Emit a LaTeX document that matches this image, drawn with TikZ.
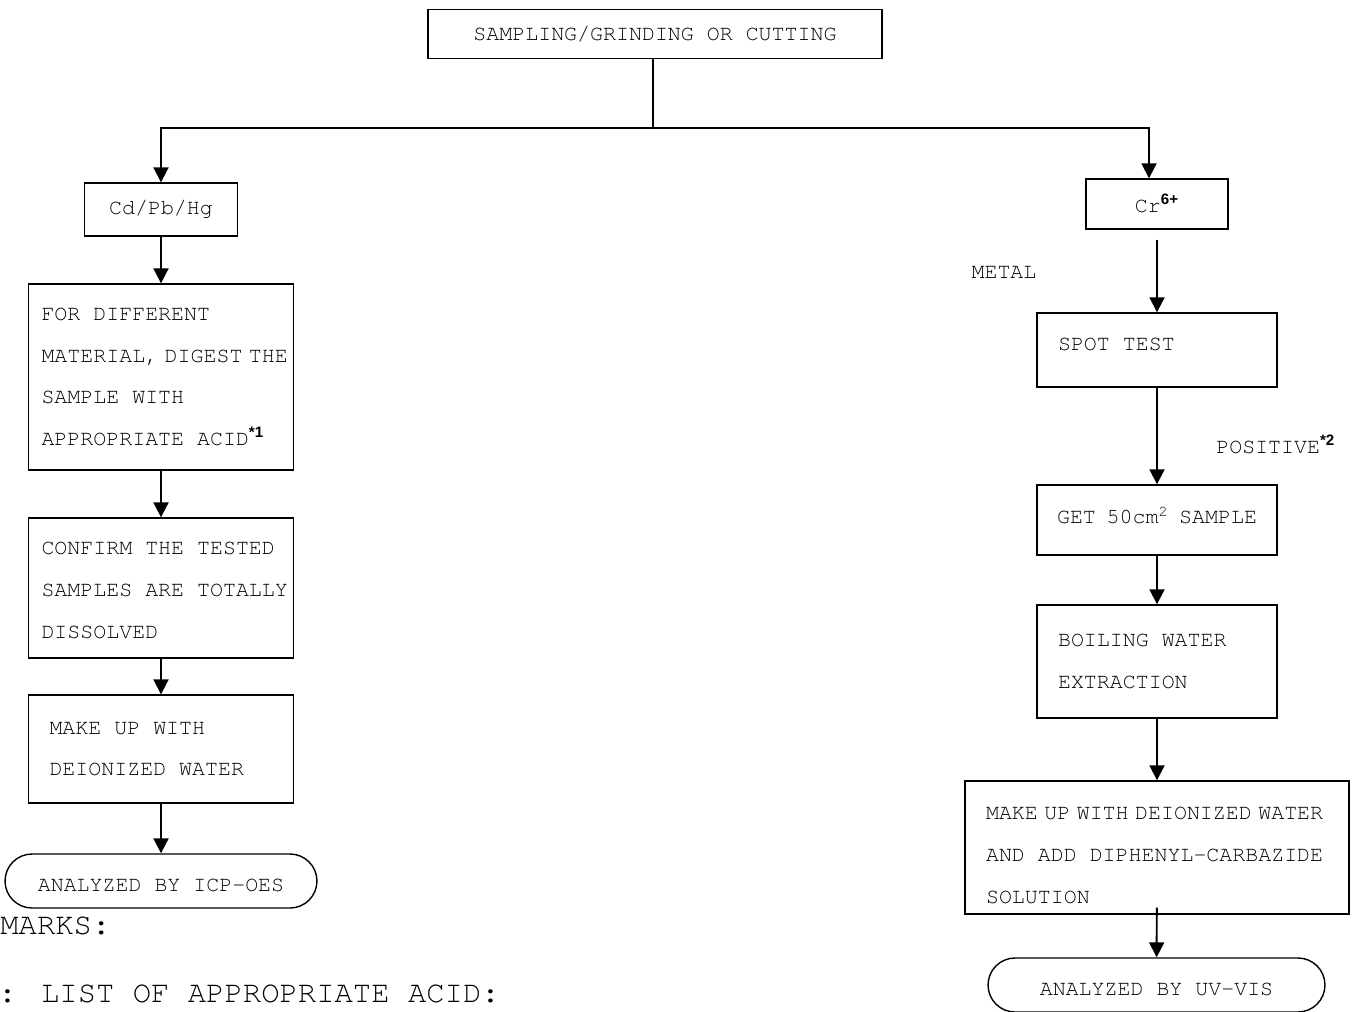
\documentclass[tikz,border=0pt]{standalone}
\usepackage{fontspec}
\setmainfont{TeX Gyre Cursor}
\newfontfamily\markfont{Liberation Sans}
\usepackage{tikz}
\usetikzlibrary{arrows.meta,shapes.misc,positioning}
\newcommand{\supmark}[1]{\textsuperscript{\markfont\bfseries #1}}
\newcommand{\nsp}{\hspace{0.3em}}

\begin{document}
\begin{tikzpicture}[x=0.02cm,y=-0.02cm]

\tikzset{stepbox/.style={draw,line width=0.8pt,align=left,inner ysep=0pt,font=\fontsize{12.3}{23.7}\selectfont,
  execute at begin node={\spaceskip=0pt\xspaceskip=0pt}},
endbox/.style={draw,line width=0.8pt,rounded rectangle,inner sep=0pt,text height=12.5pt,font=\fontsize{12.3}{14}\selectfont},
flow/.style={line width=1.1pt,-{Triangle[length=0.3cm,width=0.3cm]}},
note/.style={font=\fontsize{12.3}{14}\selectfont,inner sep=0pt},
remark/.style={font=\fontsize{17.4}{20}\selectfont,inner sep=0pt}}

\useasboundingbox (0,0) rectangle (1358,1011);

% Top
\node [stepbox,align=center,minimum width=9.08cm,minimum height=0.98cm] (top) at (655,34) {SAMPLING/GRINDING OR CUTTING};
\coordinate (split) at (653,128);

% Cd/Pb/Hg branch
\node [stepbox,align=center,minimum width=3.06cm,minimum height=1.06cm] (cdbox) at (161,209.5) {Cd/Pb/Hg};
\node [stepbox,inner xsep=0.26cm,text width=4.78cm,minimum height=3.72cm] (acid) at (161,377) {FOR DIFFERENT\\\mbox{MATERIAL,\nsp DIGEST\nsp THE}\\SAMPLE WITH\\\mbox{APPROPRIATE ACID\supmark{*1}}};
\node [stepbox,inner xsep=0.26cm,text width=4.78cm,minimum height=2.8cm,text height=10pt] (confirm) at (161,588) {CONFIRM THE TESTED\\\mbox{SAMPLES ARE TOTALLY}\\DISSOLVED};
\node [stepbox,inner xsep=0.42cm,text width=4.46cm,minimum height=2.16cm] (makeup) at (161,749) {MAKE UP WITH\\DEIONIZED WATER};
\node [endbox,minimum width=6.24cm,minimum height=1.08cm] (icp) at (161,881) {ANALYZED BY ICP-OES};

% Cr6+ branch
\node [stepbox,align=center,minimum width=2.84cm,minimum height=1cm,text height=10pt] (crbox) at (1157,204) {Cr\supmark{6+}};
\node [note] (metal) at (1004,272) {METAL};
\node [stepbox,inner xsep=0.42cm,text width=3.96cm,minimum height=1.48cm,text depth=7pt] (spot) at (1157,350) {SPOT TEST};
\node [note,anchor=base west] (positive) at (1216,453) {POSITIVE\supmark{*2}};
\node [stepbox,inner xsep=0.4cm,text width=4cm,minimum height=1.4cm,text depth=5.5pt] (get) at (1157,520) {GET 50cm\textsuperscript{2} SAMPLE};
\node [stepbox,inner xsep=0.42cm,text width=3.96cm,minimum height=2.26cm] (boil) at (1157,661.5) {BOILING WATER\\EXTRACTION};
\node [stepbox,inner xsep=0.42cm,text width=6.84cm,minimum height=2.66cm,text height=16pt] (diph) at (1157,847.5) {\mbox{MAKE\nsp UP\nsp WITH\nsp DEIONIZED\nsp WATER}\\\mbox{AND ADD DIPHENYL-CARBAZIDE}\\SOLUTION};
\node [endbox,minimum width=6.74cm,minimum height=1.08cm] (uvvis) at (1156.5,985) {ANALYZED BY UV-VIS};

% Remarks
\node [remark,anchor=base west] (remarks) at (0,934) {MARKS:};
\node [remark,anchor=base west] (acidlist) at (-2,1002) {: LIST OF APPROPRIATE ACID:};

% Edges
\draw [line width=0.9pt] (top.south -| split) -- (split);
\draw [flow] (split) -| (cdbox); \draw [flow] (split) -| ([xshift=-0.16cm]crbox.north);
\draw [flow] (cdbox) -- (acid); \draw [flow] (acid) -- (confirm); \draw [flow] (confirm) -- (makeup); \draw [flow] (makeup) -- (icp);
\draw [flow,shorten <=0.2cm] (crbox) -- (spot); \draw [flow] (spot) -- (get); \draw [flow] (get) -- (boil); \draw [flow] (boil) -- (diph);
\draw [flow,shorten <=-0.14cm] (diph) -- (uvvis);

\end{tikzpicture}
\end{document}
